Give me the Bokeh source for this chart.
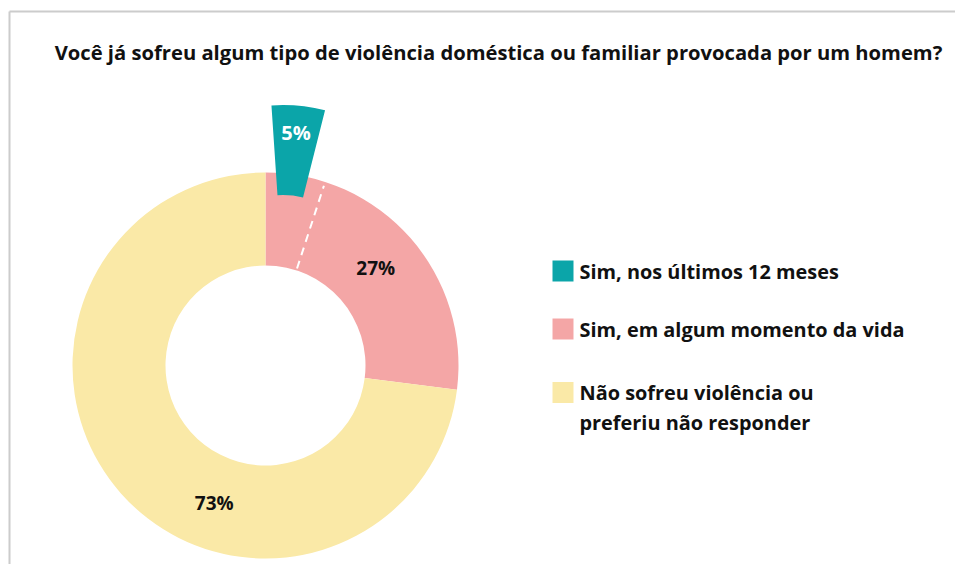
import math
from bokeh.plotting import figure
from bokeh.models import Range1d, ColumnDataSource
from bokeh.core.properties import value
from bokeh.embed import file_html
from bokeh.resources import INLINE

# ---- data ----
title_text = "Você já sofreu algum tipo de violência doméstica ou familiar provocada por um homem?"
categories = ["Sim, nos últimos 12 meses", "Sim, em algum momento da vida",
              "Não sofreu violência ou\npreferiu não responder"]
ring_shares = [27, 73]          # the full donut (pink, yellow)
sub_share = 5                   # exploded subset of the pink share (teal)
ring_labels = ["27%", "73%"]
sub_label = "5%"
colors = ["#0ba5a9", "#f4a6a6", "#fae9a7"]

# ---- layout ----
W, H = 955, 564
FONT = value("Open Sans")
p = figure(width=W, height=H, output_backend="svg", toolbar_location=None,
           x_range=Range1d(0, W), y_range=Range1d(0, H), min_border=0)
p.axis.visible = False
p.grid.visible = False
p.outline_line_color = None
p.background_fill_color = "white"

def px(x):
    return x

def py(y):
    return H - y

# frame lines
p.segment(x0=[px(9), px(9)], y0=[py(11), py(11)], x1=[W, px(9)], y1=[py(11), 0],
          line_color="#cccccc", line_width=2)

# title
p.text(x=[px(498)], y=[py(51)], text=[title_text], text_font=FONT, text_font_style="bold",
       text_font_size="20.2px", text_align="center", text_baseline="middle", text_color="#111111")

# donut
cx, cy = px(265), py(365)
r_in, r_out = 100, 193
start = 90.0
angles = []
a = start
for s in ring_shares:
    a0 = a
    a1 = a - 360.0 * s / 100.0
    angles.append((a0, a1))
    a = a1
src = ColumnDataSource(dict(
    start=[math.radians(a1) for a0, a1 in angles],
    end=[math.radians(a0) for a0, a1 in angles],
    color=colors[1:],
))
p.annular_wedge(x=cx, y=cy, inner_radius=r_in, outer_radius=r_out,
                start_angle="start", end_angle="end", color="color", line_color=None, source=src)

# dashed boundary of the subset inside the pink slice
sub_angle = math.radians(start - 360.0 * sub_share / 100.0)
p.segment(x0=[cx + (r_in + 2) * math.cos(sub_angle)], y0=[cy + (r_in + 2) * math.sin(sub_angle)],
          x1=[cx + (r_out - 4) * math.cos(sub_angle)], y1=[cy + (r_out - 4) * math.sin(sub_angle)],
          line_color="white", line_width=2, line_dash="8 6")

# exploded teal subset
rot = 3.85
tcx, tcy = px(282.5), py(276.6)
t_in, t_out = 82, 172
t0 = start + rot
t1 = t0 - 360.0 * sub_share / 100.0
p.annular_wedge(x=[tcx], y=[tcy], inner_radius=t_in, outer_radius=t_out,
                start_angle=[math.radians(t1)], end_angle=[math.radians(t0)],
                color=colors[0], line_color=None)
tm = math.radians((t0 + t1) / 2)
p.text(x=[tcx + 145 * math.cos(tm)], y=[tcy + 145 * math.sin(tm)], text=[sub_label],
       text_font=FONT, text_font_style="bold", text_font_size="20px",
       text_align="center", text_baseline="middle", text_color="white")

# ring labels
label_angles = [(angles[0][0] + angles[0][1]) / 2, 249.6]
label_r = 147
lx = [cx + label_r * math.cos(math.radians(t)) for t in label_angles]
ly = [cy + label_r * math.sin(math.radians(t)) for t in label_angles]
p.text(x=lx, y=ly, text=ring_labels, text_font=FONT, text_font_style="bold",
       text_font_size="19px", text_align="center", text_baseline="middle", text_color="#111111")

# legend
leg_y = [py(270.5), py(328.5), py(392)]
p.rect(x=[px(562.5)] * 3, y=leg_y, width=21, height=21, color=colors, line_color=None)
line_gap = 30
tx, ty, tt = [], [], []
for cat, yy in zip(categories, leg_y):
    for i, line in enumerate(cat.split("\n")):
        tx.append(px(579))
        ty.append(yy - i * line_gap)
        tt.append(line)
p.text(x=tx, y=ty, text=tt, text_font=FONT, text_font_style="bold", text_font_size="19.9px",
       text_align="left", text_baseline="middle", text_color="#111111")

open("out.html", "w").write(file_html(p, INLINE))
